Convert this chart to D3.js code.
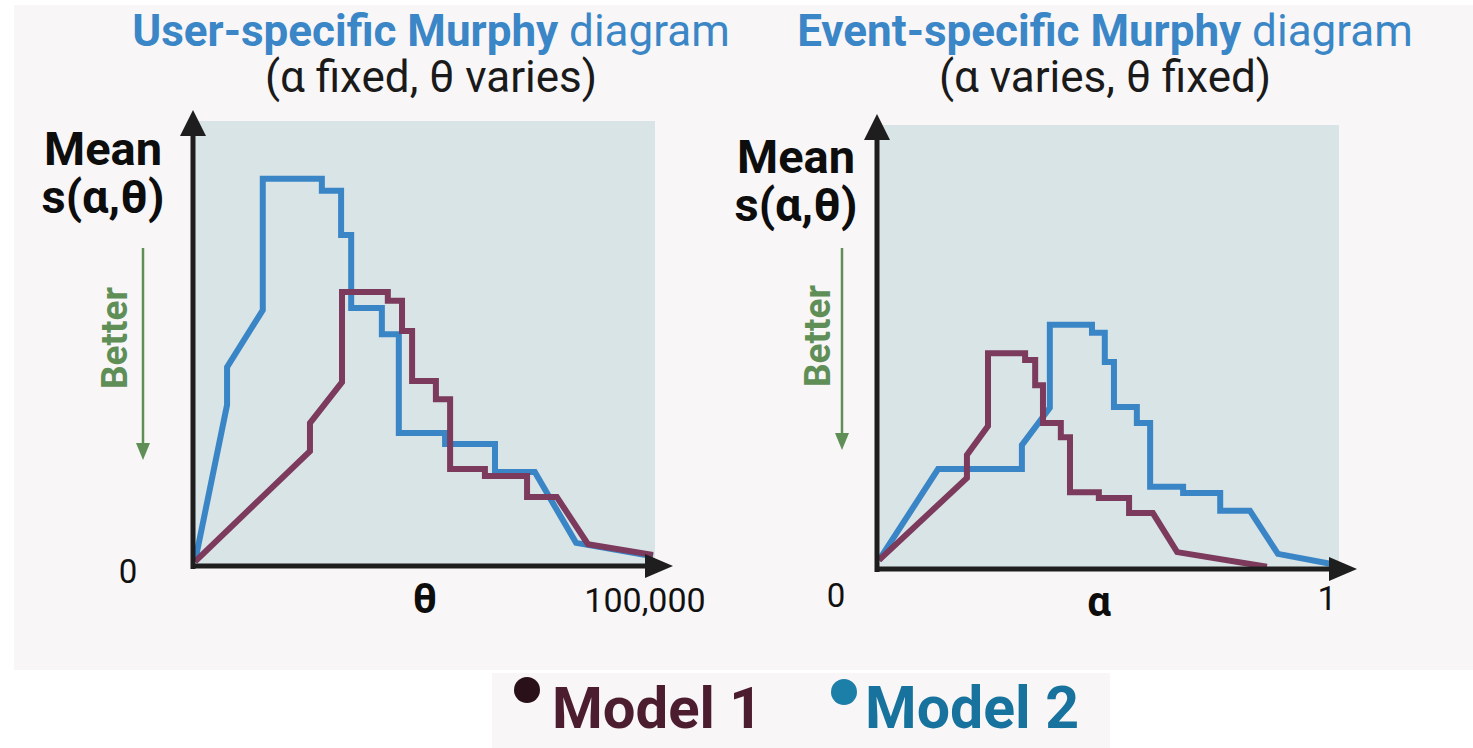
<!DOCTYPE html>
<html>
<head>
<meta charset="utf-8">
<script src="https://cdn.jsdelivr.net/npm/d3@7"></script>
<style>
  html, body { margin: 0; padding: 0; background: #ffffff; }
  svg { display: block; font-family: Roboto, "Noto Sans", sans-serif; }
</style>
</head>
<body>
<svg id="chart"></svg>
<script>
// Murphy diagram sketch: two panels, two models each

// user-specific panel: theta on x, mean score on y (100 = top of shaded area)
const userModel1 = [
  [0, 1], [25100, 25.8], [25100, 32.1], [32100, 41.3], [32100, 61.6], [42100, 61.6],
  [42100, 59.6], [45200, 59.6], [45200, 52.8], [47400, 52.8], [47400, 41.6], [52600, 41.6],
  [52600, 37.5], [55700, 37.5], [55700, 21.8], [63300, 21.8], [63300, 20.2], [72500, 20.2],
  [72500, 15.5], [79000, 15.5], [85800, 4.9], [100000, 2.5]
];
const userModel2 = [
  [0, 1], [7000, 36.2], [7000, 44.7], [14800, 57.5], [14800, 87.0], [27700, 87.0],
  [27700, 84.3], [31900, 84.3], [31900, 74.4], [34100, 74.4], [34100, 58.0], [40800, 58.0],
  [40800, 52.1], [44500, 52.1], [44500, 29.9], [54600, 29.9], [54600, 27.4], [65500, 27.4],
  [65500, 21.1], [74200, 21.1], [83200, 5.2], [100000, 2.2]
];

// event-specific panel: alpha on x
const eventModel1 = [
  [0, 2], [0.192, 20.5], [0.192, 25.7], [0.238, 32.2], [0.238, 48.6], [0.319, 48.6],
  [0.319, 47.1], [0.341, 47.1], [0.341, 41.4], [0.358, 41.4], [0.358, 32.9], [0.397, 32.9],
  [0.397, 29.7], [0.417, 29.7], [0.417, 17.3], [0.480, 17.3], [0.480, 16.0], [0.546, 16.0],
  [0.546, 12.6], [0.598, 12.6], [0.651, 3.8], [0.847, 0.5]
];
const eventModel2 = [
  [0, 2], [0.129, 22.5], [0.312, 22.5], [0.312, 27.9], [0.373, 36.3], [0.373, 55.0],
  [0.465, 55.0], [0.465, 53.2], [0.493, 53.2], [0.493, 46.6], [0.513, 46.6], [0.513, 36.5],
  [0.563, 36.5], [0.563, 32.9], [0.592, 32.9], [0.592, 18.5], [0.664, 18.5], [0.664, 17.1],
  [0.745, 17.1], [0.745, 13.1], [0.810, 13.1], [0.871, 3.4], [1.0, 0.9]
];

const userDomain = [0, 100000];
const eventDomain = [0, 1];
const userTickLabels = ["0", "100,000"];
const eventTickLabels = ["0", "1"];
const models = ["Model 1", "Model 2"];

const W = 1473, H = 748;
const lineColors = { m1: "#7c3a5c", m2: "#3a85c6" };

const svg = d3.select("#chart").attr("width", W).attr("height", H);

svg.append("rect").attr("width", W).attr("height", H).attr("fill", "#ffffff");
svg.append("rect").attr("x", 14).attr("y", 5).attr("width", W - 14).attr("height", 665).attr("fill", "#f8f6f7");
svg.append("rect").attr("x", 492).attr("y", 673).attr("width", 618).attr("height", 75).attr("fill", "#f8f6f7");

function drawPanel(opt) {
  const x = d3.scaleLinear().domain(opt.domain).range(opt.xRange);
  const y = d3.scaleLinear().domain([0, 100]).range(opt.yRange);
  const g = svg.append("g");

  const [x0, x1] = x.range();
  const [y0, y1] = y.range();

  // shaded plotting area
  g.append("rect")
    .attr("x", x0).attr("y", y1)
    .attr("width", x1 - x0 + 2).attr("height", y0 - y1)
    .attr("fill", "#d8e4e6");

  const line = d3.line().x(d => x(d[0])).y(d => y(d[1]));

  // model 2 first, model 1 sits on top
  g.append("path").datum(opt.m2)
    .attr("d", line).attr("fill", "none")
    .attr("stroke", lineColors.m2).attr("stroke-width", 6)
    .attr("stroke-linejoin", "miter");
  g.append("path").datum(opt.m1)
    .attr("d", line).attr("fill", "none")
    .attr("stroke", lineColors.m1).attr("stroke-width", 6)
    .attr("stroke-linejoin", "miter");

  // axes with arrow heads
  const ox = x0 - 2, oy = y0;
  const topTip = y1 - 11, rightTip = x1 + 20;
  g.append("line").attr("x1", ox).attr("x2", ox).attr("y1", oy + 3).attr("y2", topTip + 22)
    .attr("stroke", "#1e1e1e").attr("stroke-width", 5);
  g.append("path")
    .attr("d", `M${ox},${topTip} L${ox - 13},${topTip + 26} L${ox + 13},${topTip + 26} Z`)
    .attr("fill", "#1e1e1e");
  g.append("line").attr("x1", ox - 2).attr("x2", rightTip - 24).attr("y1", oy).attr("y2", oy)
    .attr("stroke", "#1e1e1e").attr("stroke-width", 5);
  g.append("path")
    .attr("d", `M${rightTip},${oy} L${rightTip - 28},${oy - 12} L${rightTip - 28},${oy + 12} Z`)
    .attr("fill", "#1e1e1e");

  // titles
  const title = g.append("text").attr("x", opt.titleX).attr("y", 46)
    .attr("text-anchor", "middle").attr("font-size", 44).attr("fill", "#3a86c6");
  title.append("tspan").attr("font-weight", 700).text(opt.titleBold);
  title.append("tspan").attr("font-weight", 400).text(" diagram");
  g.append("text").attr("x", opt.titleX).attr("y", 92)
    .attr("text-anchor", "middle").attr("font-size", 44).attr("fill", "#1a1a1a")
    .text(opt.subtitle);

  // y label
  const yl = g.append("text").attr("text-anchor", "middle")
    .attr("font-size", 47).attr("font-weight", 700).attr("fill", "#0d0d0d");
  yl.append("tspan").attr("x", opt.yLabelX).attr("y", opt.yLabelY).text("Mean");
  yl.append("tspan").attr("x", opt.yLabelX).attr("y", opt.yLabelY + 48).text("s(α,θ)");

  // "Better" arrow
  g.append("text")
    .attr("transform", `translate(${opt.betterX},${opt.betterY}) rotate(-90)`)
    .attr("text-anchor", "middle").attr("font-size", 37).attr("font-weight", 700)
    .attr("fill", "#5f8f57").text("Better");
  const ax = opt.arrowX;
  g.append("line").attr("x1", ax).attr("x2", ax).attr("y1", 248).attr("y2", opt.arrowTip - 10)
    .attr("stroke", "#5f8f57").attr("stroke-width", 2.5);
  g.append("path")
    .attr("d", `M${ax},${opt.arrowTip} L${ax - 7},${opt.arrowTip - 17} L${ax + 7},${opt.arrowTip - 17} Z`)
    .attr("fill", "#5f8f57");

  // tick labels and axis name
  g.append("text").attr("x", x(opt.domain[0]) - opt.zeroDx).attr("y", oy + opt.zeroDy)
    .attr("text-anchor", "middle").attr("font-size", 33).attr("fill", "#111")
    .text(opt.ticks[0]);
  g.append("text").attr("x", x(opt.domain[1]) + opt.endDx).attr("y", oy + opt.endDy)
    .attr("text-anchor", "middle").attr("font-size", 34).attr("fill", "#111")
    .text(opt.ticks[1]);
  g.append("text").attr("x", opt.nameX).attr("y", oy + 47)
    .attr("text-anchor", "middle").attr("font-size", 42).attr("font-weight", 700)
    .attr("fill", "#0d0d0d").text(opt.name);
}

drawPanel({
  domain: userDomain, xRange: [195, 653], yRange: [566, 121],
  m1: userModel1, m2: userModel2,
  titleX: 431, titleBold: "User-specific Murphy", subtitle: "(α fixed, θ varies)",
  yLabelX: 103, yLabelY: 165,
  betterX: 127, betterY: 338, arrowX: 143, arrowTip: 460,
  ticks: userTickLabels, zeroDx: 67, zeroDy: 17, endDx: -8, endDy: 46,
  nameX: 425, name: "θ"
});

drawPanel({
  domain: eventDomain, xRange: [879, 1337], yRange: [569, 125],
  m1: eventModel1, m2: eventModel2,
  titleX: 1105, titleBold: "Event-specific Murphy", subtitle: "(α varies, θ fixed)",
  yLabelX: 796, yLabelY: 173,
  betterX: 830, betterY: 336, arrowX: 842, arrowTip: 450,
  ticks: eventTickLabels, zeroDx: 43, zeroDy: 38, endDx: -10, endDy: 41,
  nameX: 1099, name: "α"
});

// legend
const legend = svg.append("g");
const legendItems = [
  { label: models[0], dot: "#2a1019", text: "#4b1d2f", dx: 527, dy: 690, tx: 552, size: 58 },
  { label: models[1], dot: "#1c7fa7", text: "#17739d", dx: 844, dy: 692, tx: 865, size: 59 }
];
legendItems.forEach(d => {
  legend.append("circle").attr("cx", d.dx).attr("cy", d.dy).attr("r", 13).attr("fill", d.dot);
  legend.append("text").attr("x", d.tx).attr("y", 728)
    .attr("font-size", d.size).attr("font-weight", 700).attr("fill", d.text).text(d.label);
});
</script>
</body>
</html>
